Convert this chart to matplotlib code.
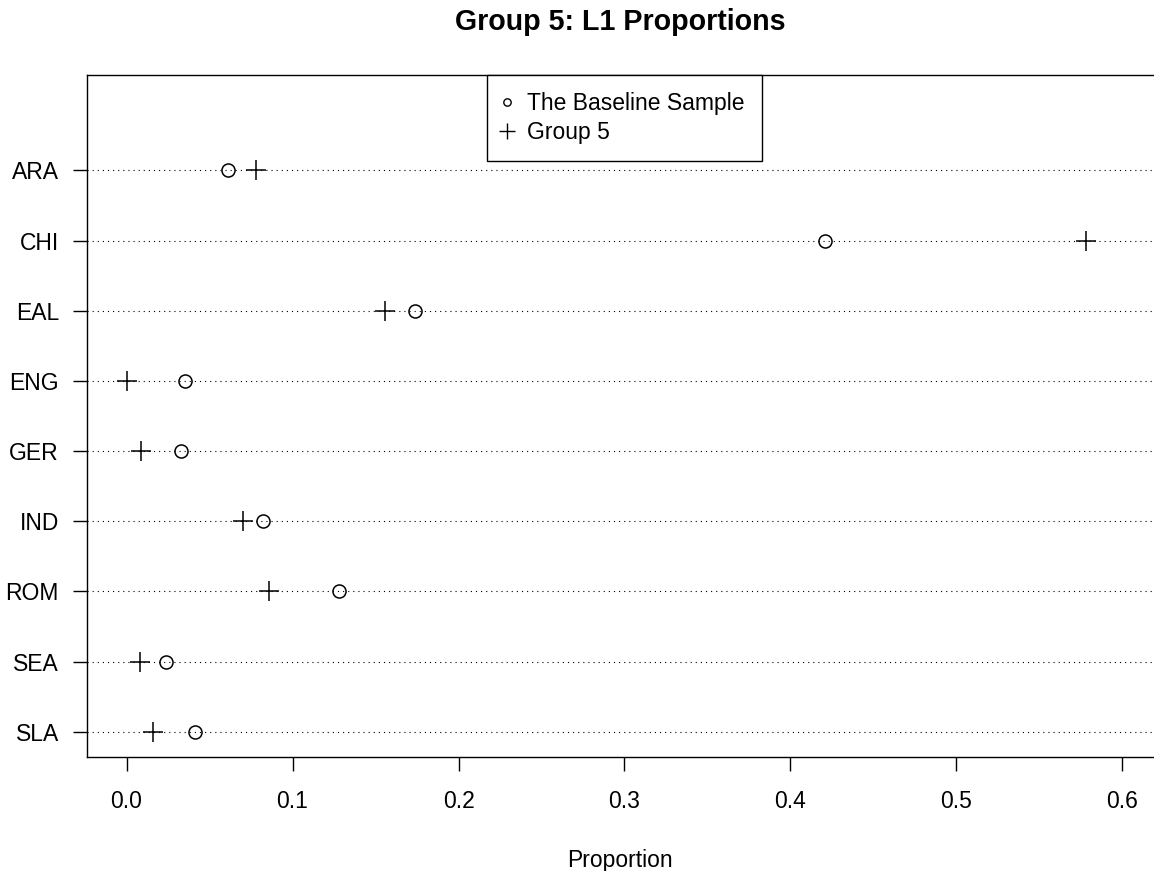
#! /usr/bin/env python3
# -*- coding: utf-8 -*-
'''
dot chart of L1 proportions, group 5 against the baseline sample
'''

import numpy as np
import matplotlib
matplotlib.use('Agg')
import matplotlib.pyplot as plt
from matplotlib.lines import Line2D


# L1 groups, top row first
languages = ['ARA', 'CHI', 'EAL', 'ENG', 'GER', 'IND', 'ROM', 'SEA', 'SLA']

# proportions
baseline = [0.061, 0.421, 0.174, 0.035, 0.033, 0.082, 0.128, 0.024, 0.041]
group5 = [0.078, 0.578, 0.156, 0.0, 0.0085, 0.070, 0.086, 0.008, 0.016]

xticks = [0.0, 0.1, 0.2, 0.3, 0.4, 0.5, 0.6]
xticklabels = ['0.0', '0.1', '0.2', '0.3', '0.4', '0.5', '0.6']

title = 'Group 5: L1 Proportions'
xlabel = 'Proportion'
legend_labels = ['The Baseline Sample', 'Group 5']


def main():
    plt.rcParams['font.family'] = ['Liberation Sans', 'DejaVu Sans']

    W, H = 1154, 871
    fig = plt.figure(figsize=(W / 100, H / 100), dpi=100)
    # plot region in pixels: left 87, top 75, bottom 757, runs off the right edge
    ax = fig.add_axes([86.7 / W, (H - 757) / H, 1 - 86.7 / W, (757 - 75) / H])

    y = np.arange(len(languages), 0, -1)

    # dotted guide line for every row
    for yi in y:
        ax.axhline(yi, color='black', lw=0.8, ls=(0, (1, 3.6)), zorder=1)

    ax.plot(baseline, y, 'o', mfc='none', mec='black', ms=9.4, mew=1.1,
            ls='none', zorder=3)
    ax.plot(group5, y, '+', color='black', ms=15, mew=1.1, ls='none', zorder=3)

    ax.set_xlim(-0.024, 0.619)
    ax.set_ylim(0.64, 10.36)
    ax.set_xticks(xticks)
    ax.set_xticklabels(xticklabels)
    ax.set_yticks(y)
    ax.set_yticklabels(languages)

    ax.tick_params(axis='both', direction='out', length=10, width=1.0,
                   labelsize=16.5, color='black')
    ax.tick_params(axis='x', pad=14)
    ax.tick_params(axis='y', pad=10)
    ax.spines['right'].set_visible(False)
    for s in ['left', 'top', 'bottom']:
        ax.spines[s].set_linewidth(1.0)

    handles = [Line2D([], [], marker='o', mfc='none', mec='black', ms=5.3,
                      mew=1.0, ls='none'),
               Line2D([], [], marker='+', color='black', ms=12, mew=1.0,
                      ls='none')]
    leg = ax.legend(handles, legend_labels, loc='upper left',
                    bbox_to_anchor=((487.3 - 86.7) / (W - 86.7), 1.0),
                    borderaxespad=0, fancybox=False, edgecolor='black',
                    framealpha=1, fontsize=16.5, handlelength=0.2,
                    handletextpad=0.8, borderpad=0.75, labelspacing=0.26)
    leg.get_frame().set_linewidth(1.0)

    fig.text(620 / W, 1 - 30.5 / H, title, ha='center', va='baseline',
             fontsize=20.6, fontweight='bold')
    # the label sits on the bottom edge, descenders are cut as in the original
    fig.text(620 / W, 1 - 867 / H, xlabel, ha='center', va='baseline',
             fontsize=16.5)

    fig.savefig('out.png', dpi=100)


if __name__ == '__main__':
    main()
